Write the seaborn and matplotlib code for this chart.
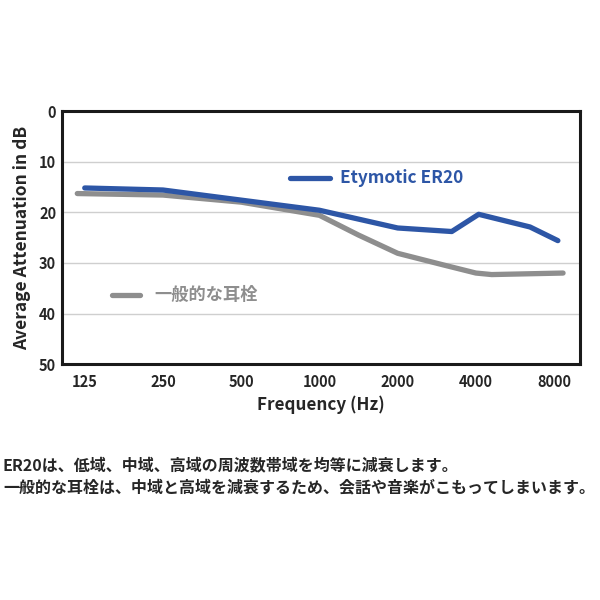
import matplotlib
matplotlib.use("Agg")
import matplotlib.pyplot as plt
import seaborn as sns
import pandas as pd

# Etymotic ER20
er20_freq = [125, 250, 500, 1000, 2000, 3230, 4100, 6460, 8270]
er20_db = [15.2, 15.6, 17.6, 19.6, 23.1, 23.8, 20.4, 22.9, 25.6]

# 一般的な耳栓
plug_freq = [117, 250, 500, 1000, 1414, 2000, 3000, 4000, 4600, 8660]
plug_db = [16.3, 16.6, 18.0, 20.6, 24.5, 28.1, 30.4, 32.0, 32.3, 32.0]

tick_freqs = [125, 250, 500, 1000, 2000, 4000, 8000]
y_ticks = [0, 10, 20, 30, 40, 50]

caption = ["ER20は、低域、中域、高域の周波数帯域を均等に減衰します。",
           "一般的な耳栓は、中域と高域を減衰するため、会話や音楽がこもってしまいます。"]

blue = "#2D56A6"
grey = "#8E8E8E"

sns.set_style("white")
plt.rcParams["font.family"] = ["Noto Sans CJK JP", "DejaVu Sans"]

df_er = pd.DataFrame({"freq": er20_freq, "db": er20_db})
df_pl = pd.DataFrame({"freq": plug_freq, "db": plug_db})

fig = plt.figure(figsize=(6, 6), dpi=100)
ax = fig.add_axes([0.103, 0.393, 0.864, 0.422])

for y in y_ticks[1:-1]:
    ax.axhline(y, color="#cfcfcf", lw=1, zorder=0)

sns.lineplot(data=df_pl, x="freq", y="db", color=grey, lw=3.8, ax=ax,
             solid_capstyle="round", solid_joinstyle="round")
sns.lineplot(data=df_er, x="freq", y="db", color=blue, lw=3.8, ax=ax,
             solid_capstyle="round", solid_joinstyle="round")

ax.set_xscale("log", base=2)
ax.set_xlim(102, 10080)
ax.set_ylim(50, 0)
ax.set_xticks(tick_freqs)
ax.set_xticklabels([str(f) for f in tick_freqs])
ax.minorticks_off()
ax.set_yticks(y_ticks)
ax.tick_params(axis="x", direction="in", length=5, width=1, color="#999999",
               labelsize=10.5, pad=7)
ax.tick_params(axis="y", length=0, labelsize=10.5, pad=4)
for lab in ax.get_xticklabels() + ax.get_yticklabels():
    lab.set_fontweight("bold")

for s in ax.spines.values():
    s.set_visible(True)
    s.set_color("#1a1a1a")
    s.set_linewidth(2.2)

ax.set_xlabel("Frequency (Hz)", fontsize=12.3, fontweight="bold", labelpad=4)
ax.set_ylabel("Average Attenuation in dB", fontsize=12.5, fontweight="bold", labelpad=6)

# in-plot legend labels
ax.plot([773, 1103], [13.3, 13.3], color=blue, lw=3.8, solid_capstyle="round")
ax.text(1205, 13.3, "Etymotic ER20", color=blue, fontsize=12.4,
        fontweight="bold", va="center")
ax.plot([159, 204], [36.4, 36.4], color=grey, lw=3.8, solid_capstyle="round")
ax.text(231, 36.4, "一般的な耳栓", color=grey, fontsize=12.4,
        fontweight="bold", va="center")

fig.text(0.005, 0.225, caption[0], fontsize=11.5, fontweight="bold", va="center")
fig.text(0.005, 0.188, caption[1], fontsize=11.5, fontweight="bold", va="center")

fig.savefig("out.png", dpi=100, facecolor="white")
